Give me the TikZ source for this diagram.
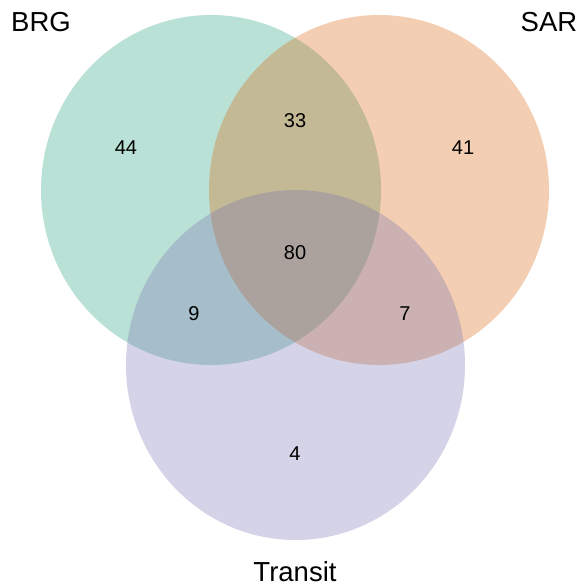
\documentclass[tikz,border=0pt]{standalone}
\usepackage{fontspec}
\setmainfont{Liberation Sans}
\definecolor{cbrg}{HTML}{1B9E77}
\definecolor{csar}{HTML}{D95F02}
\definecolor{ctra}{HTML}{7570B3}
\begin{document}
\begin{tikzpicture}[x=1pt,y=-1pt,
  setlabel/.style={anchor=base,font=\fontsize{27.5}{32}\selectfont,inner sep=0pt},
  count/.style={anchor=base,font=\fontsize{20}{24}\selectfont,inner sep=0pt},
  setfill/.style={fill=#1,fill opacity=0.3,draw=none}]
\useasboundingbox (0,0) rectangle (582,588);
\fill[white] (0,0) rectangle (582,588);
\path[setfill=cbrg] (211,190) ellipse[x radius=170,y radius=175];
\path[setfill=csar] (379,190) ellipse[x radius=170,y radius=175];
\path[setfill=ctra] (295.5,365) ellipse[x radius=169.5,y radius=175];
\node[setlabel] (lbrg) at (41,32) {BRG};
\node[setlabel] (lsar) at (549,32) {SAR};
\node[setlabel] (ltra) at (295,581) {Transit};
\node[count] (n44) at (126,155) {44};
\node[count] (n33) at (295,128) {33};
\node[count] (n41) at (463,155) {41};
\node[count] (n80) at (295,259) {80};
\node[count] (n9) at (194,320) {9};
\node[count] (n7) at (405,320) {7};
\node[count] (n4) at (295,460) {4};
\end{tikzpicture}
\end{document}
